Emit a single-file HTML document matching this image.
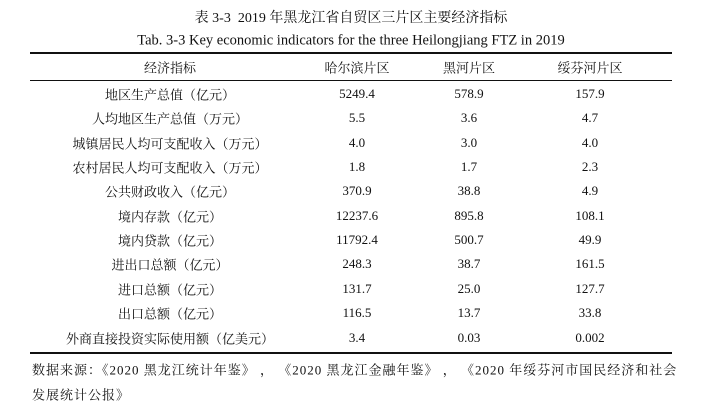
<!DOCTYPE html>
<html><head><meta charset="utf-8"><style>
body{margin:0;width:703px;height:407px;background:#fff;position:relative;overflow:hidden;font-family:"Liberation Serif","Noto Serif CJK SC",serif;color:#111}
.t{position:absolute;white-space:nowrap;transform:translate(-50%,-50%);font-size:13px}
.r{position:absolute;left:30px;width:642px;background:#111}
.foot{position:absolute;left:32px;font-size:13px;white-space:nowrap;transform:translateY(-50%);letter-spacing:1px}
</style></head><body>
<div class="t" style="left:351px;top:17px;font-size:14px">表 3-3&nbsp; 2019 年黑龙江省自贸区三片区主要经济指标</div>
<div class="t" style="left:351px;top:41px;font-size:14.5px">Tab. 3-3 Key economic indicators for the three Heilongjiang FTZ in 2019</div>
<div class="r" style="top:52px;height:2px"></div>
<div class="r" style="top:80px;height:1px"></div>
<div class="r" style="top:352px;height:2px"></div>
<div id="tbl"></div>
<div class="foot" style="top:369px">数据来源：《2020 黑龙江统计年鉴》&nbsp;，&nbsp;《2020 黑龙江金融年鉴》&nbsp;，&nbsp;《2020 年绥芬河市国民经济和社会</div>
<div class="foot" style="top:394px">发展统计公报》</div>
<script>
const headers=["经济指标","哈尔滨片区","黑河片区","绥芬河片区"];
const labels=["地区生产总值（亿元）","人均地区生产总值（万元）","城镇居民人均可支配收入（万元）","农村居民人均可支配收入（万元）","公共财政收入（亿元）","境内存款（亿元）","境内贷款（亿元）","进出口总额（亿元）","进口总额（亿元）","出口总额（亿元）","外商直接投资实际使用额（亿美元）"];
const harbin=["5249.4","5.5","4.0","1.8","370.9","12237.6","11792.4","248.3","131.7","116.5","3.4"];
const heihe=["578.9","3.6","3.0","1.7","38.8","895.8","500.7","38.7","25.0","13.7","0.03"];
const suifenhe=["157.9","4.7","4.0","2.3","4.9","108.1","49.9","161.5","127.7","33.8","0.002"];
const colX=[170,357,469,590];
const tbl=document.getElementById('tbl');
function cell(txt,x,y,name){const d=document.createElement('div');d.className='t';d.textContent=txt;d.style.left=x+'px';d.style.top=y+'px';


tbl.appendChild(d);}
headers.forEach((h,i)=>cell(h,colX[i],67,'header-'+i));
labels.forEach((l,i)=>{const y=94+i*24.35;
cell(l,colX[0],y,'row-label');
cell(harbin[i],colX[1],y,'harbin-value');
cell(heihe[i],colX[2],y,'heihe-value');
cell(suifenhe[i],colX[3],y,'suifenhe-value');});
</script>
</body></html>
